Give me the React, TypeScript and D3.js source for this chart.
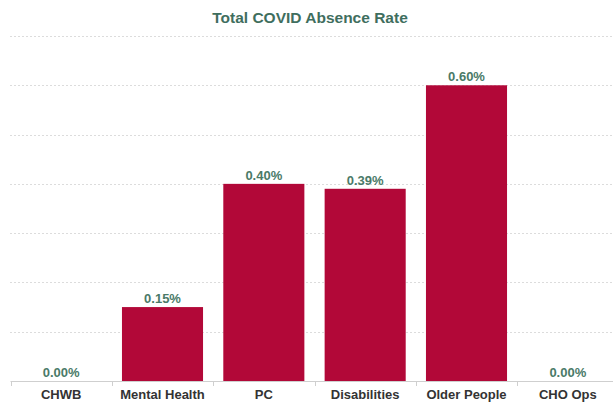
import React, { useEffect, useRef } from "react";
import * as d3 from "d3";

// Data
const categories = ["CHWB", "Mental Health", "PC", "Disabilities", "Older People", "CHO Ops"];
const rates = [0.0, 0.15, 0.4, 0.39, 0.6, 0.0];
const gridTicks = [0.1, 0.2, 0.3, 0.4, 0.5, 0.6, 0.7];

const title = "Total COVID Absence Rate";

export const BarChart: React.FC = () => {
	const svgRef = useRef<SVGSVGElement | null>(null);

	useEffect(() => {
		if (!svgRef.current) return;

		const svg = d3.select(svgRef.current);
		const width = 613;
		const height = 405;
		const font = "'Liberation Sans', Arial, sans-serif";

		svg.selectAll("*").remove();

		const xScale = d3
			.scaleBand()
			.domain(categories)
			.range([10.5, 618.5])
			.paddingInner(0.2)
			.paddingOuter(0.1);

		const yScale = d3.scaleLinear().domain([0, 0.7]).range([381, 36]);

		svg.attr("width", width).attr("height", height);

		// Title
		svg
			.append("text")
			.attr("x", 310)
			.attr("y", 23)
			.attr("text-anchor", "middle")
			.attr("font-family", font)
			.attr("font-weight", "bold")
			.attr("font-size", 15.5)
			.attr("fill", "#3f6e5e")
			.text(title);

		// Dotted gridlines
		svg
			.append("g")
			.selectAll("line")
			.data(gridTicks)
			.enter()
			.append("line")
			.attr("x1", 10)
			.attr("x2", width)
			.attr("y1", (d) => Math.round(yScale(d)) + 0.5)
			.attr("y2", (d) => Math.round(yScale(d)) + 0.5)
			.attr("stroke", "#dcdcdc")
			.attr("stroke-width", 1)
			.attr("stroke-dasharray", "2,2");

		// Bars
		svg
			.append("g")
			.selectAll("rect")
			.data(rates)
			.enter()
			.append("rect")
			.attr("x", (_, i) => xScale(categories[i]) || 0)
			.attr("y", (d) => yScale(d))
			.attr("width", xScale.bandwidth())
			.attr("height", (d) => yScale(0) - yScale(d))
			.attr("fill", "#b20838");

		// Value labels
		svg
			.append("g")
			.selectAll("text")
			.data(rates)
			.enter()
			.append("text")
			.attr("x", (_, i) => (xScale(categories[i]) || 0) + xScale.bandwidth() / 2)
			.attr("y", (d) => yScale(d) - 4)
			.attr("text-anchor", "middle")
			.attr("font-family", font)
			.attr("font-weight", "bold")
			.attr("font-size", 13)
			.attr("fill", "#4a7a68")
			.text((d) => d3.format(".2f")(d) + "%");

		// X axis
		const axis = svg.append("g");
		const step = xScale.step();
		const x0 = 10.5;
		axis
			.append("line")
			.attr("x1", x0)
			.attr("x2", width)
			.attr("y1", 381.5)
			.attr("y2", 381.5)
			.attr("stroke", "#cfcfcf");

		axis
			.selectAll(".tick")
			.data(d3.range(categories.length + 1))
			.enter()
			.append("line")
			.attr("class", "tick")
			.attr("x1", (i) => Math.round(x0 + i * step) + 0.5)
			.attr("x2", (i) => Math.round(x0 + i * step) + 0.5)
			.attr("y1", 381)
			.attr("y2", 386)
			.attr("stroke", "#cfcfcf");

		axis
			.selectAll("text")
			.data(categories)
			.enter()
			.append("text")
			.attr("x", (d) => (xScale(d) || 0) + xScale.bandwidth() / 2)
			.attr("y", 399)
			.attr("text-anchor", "middle")
			.attr("font-family", font)
			.attr("font-weight", "bold")
			.attr("font-size", 13)
			.attr("fill", "#333333")
			.text((d) => d);
	}, []);

	return <svg ref={svgRef} style={{ position: "absolute", left: 0, top: 0 }}></svg>;
};

export default function App() {
	return <BarChart />;
}
